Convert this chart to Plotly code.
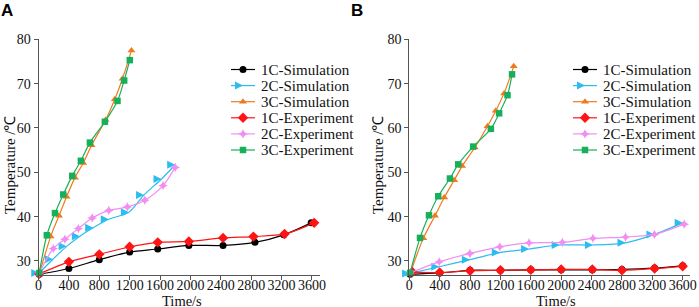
import plotly.graph_objects as go

# ---------------- data ----------------
names = ["1C-Simulation", "2C-Simulation", "3C-Simulation",
         "1C-Experiment", "2C-Experiment", "3C-Experiment"]

x_ticks = [0, 400, 800, 1200, 1600, 2000, 2400, 2800, 3200, 3600]
y_ticks = [30, 40, 50, 60, 70, 80]

# Panel A
A_1C_sim_x = [10, 400, 800, 1200, 1570, 1980, 2430, 2850, 3230, 3590]
A_1C_sim_y = [27.0, 28.3, 30.3, 32.0, 32.7, 33.5, 33.5, 34.2, 35.9, 38.6]
A_2C_sim_x = [10, 190, 370, 545, 720, 925, 1190, 1390, 1620, 1800]
A_2C_sim_y = [27.3, 30.4, 33.3, 35.6, 37.5, 39.4, 41.0, 44.9, 48.5, 51.7]
A_3C_sim_x = [10, 160, 270, 370, 480, 589, 699, 883, 1005, 1106, 1224]
A_3C_sim_y = [27.1, 35.5, 40.2, 44.5, 48.8, 52.1, 56.1, 61.8, 66.5, 71.1, 77.5]
A_1C_exp_x = [10, 400, 800, 1200, 1570, 1980, 2430, 2830, 3240, 3630]
A_1C_exp_y = [27.1, 29.8, 31.5, 33.2, 34.2, 34.4, 35.2, 35.5, 36.1, 38.6]
A_2C_exp_x = [10, 195, 348, 525, 707, 926, 1170, 1400, 1640, 1800]
A_2C_exp_y = [27.3, 32.8, 34.9, 37.3, 39.7, 41.4, 42.2, 43.7, 47.0, 51.1]
A_3C_exp_x = [10, 110, 217, 326, 444, 558, 677, 874, 1040, 1128, 1202]
A_3C_exp_y = [27.3, 35.8, 40.8, 45.0, 49.2, 52.6, 56.7, 61.4, 66.1, 70.7, 75.3]

# Panel B
B_1C_sim_x = [10, 400, 800, 1200, 1600, 2000, 2410, 2800, 3230, 3600]
B_1C_sim_y = [27.0, 27.3, 27.9, 27.9, 28.0, 28.0, 28.0, 28.1, 28.4, 28.9]
B_2C_sim_x = [10, 394, 798, 1192, 1577, 1980, 2418, 2847, 3228, 3600]
B_2C_sim_y = [27.2, 28.7, 30.3, 31.9, 32.7, 33.6, 33.6, 34.1, 36.0, 38.6]
B_3C_sim_x = [10, 184, 338, 460, 591, 696, 863, 1030, 1139, 1248, 1375]
B_3C_sim_y = [27.1, 35.1, 40.2, 44.3, 48.2, 51.4, 55.6, 60.4, 63.9, 67.8, 73.9]
B_1C_exp_x = [40, 400, 800, 1200, 1600, 2000, 2410, 2800, 3230, 3600]
B_1C_exp_y = [27.5, 27.4, 27.8, 27.9, 28.0, 28.1, 28.1, 27.9, 28.3, 28.8]
B_2C_exp_x = [10, 394, 798, 1192, 1577, 2015, 2418, 2847, 3228, 3620]
B_2C_exp_y = [27.3, 29.8, 31.7, 33.2, 34.1, 34.2, 35.1, 35.4, 36.0, 38.3]
B_3C_exp_x = [10, 141, 259, 381, 535, 644, 841, 1074, 1183, 1293, 1353]
B_3C_exp_y = [27.3, 35.2, 40.3, 44.6, 48.6, 51.8, 55.8, 59.8, 63.3, 67.4, 72.1]

# ---------------- styles ----------------
colors = ["#000000", "#2cbcf0", "#f07a1e", "#ff1414", "#f28ef2", "#17b05a"]
symbols = ["circle", "arrow-right", "triangle-up", "diamond", "star-diamond", "square"]
msizes = [7, 8, 7, 8, 7, 6.5]

SERIF = "Liberation Serif, Times New Roman, serif"
W, H = 699, 307

panels = {
    "A": [(A_1C_sim_x, A_1C_sim_y), (A_2C_sim_x, A_2C_sim_y), (A_3C_sim_x, A_3C_sim_y),
          (A_1C_exp_x, A_1C_exp_y), (A_2C_exp_x, A_2C_exp_y), (A_3C_exp_x, A_3C_exp_y)],
    "B": [(B_1C_sim_x, B_1C_sim_y), (B_2C_sim_x, B_2C_sim_y), (B_3C_sim_x, B_3C_sim_y),
          (B_1C_exp_x, B_1C_exp_y), (B_2C_exp_x, B_2C_exp_y), (B_3C_exp_x, B_3C_exp_y)],
}

fig = go.Figure()
for ax, key in [("", "A"), ("2", "B")]:
    for i, (xs, ys) in enumerate(panels[key]):
        fig.add_trace(go.Scatter(
            x=xs, y=ys, mode="lines+markers", name=names[i], showlegend=False,
            line=dict(color=colors[i], width=1.2, shape="spline", smoothing=0.8),
            marker=dict(symbol=symbols[i], size=msizes[i], color=colors[i],
                        line=dict(width=0)),
            cliponaxis=False, xaxis="x" + ax, yaxis="y" + ax,
        ))

# ---------------- manual legends (pixel overlay axis) ----------------
legend_rows = [69.5 + 16.1 * i for i in range(6)]
legend_left = {"A": 231, "B": 573}
seg = 24
for key in ["A", "B"]:
    x0 = legend_left[key]
    for i, yy in enumerate(legend_rows):
        fig.add_trace(go.Scatter(
            x=[x0, x0 + seg / 2, x0 + seg], y=[yy, yy, yy], mode="lines",
            line=dict(color=colors[i], width=1.2), showlegend=False,
            hoverinfo="skip", xaxis="x3", yaxis="y3", cliponaxis=False))
        fig.add_trace(go.Scatter(
            x=[x0 + seg / 2], y=[yy], mode="markers",
            marker=dict(symbol=symbols[i], size=msizes[i], color=colors[i], line=dict(width=0)),
            showlegend=False, hoverinfo="skip", xaxis="x3", yaxis="y3", cliponaxis=False))
        fig.add_annotation(x=x0 + seg + 4, y=yy, xref="x3", yref="y3", text=names[i],
                           showarrow=False, xanchor="left", yanchor="middle",
                           font=dict(family=SERIF, size=15, color="#111"))

# ---------------- axes ----------------
axis_common = dict(showline=True, linecolor="#555", linewidth=1, ticks="outside",
                   ticklen=4, tickwidth=1, tickcolor="#555", showgrid=False,
                   zeroline=False, automargin=False,
                   tickfont=dict(family=SERIF, size=14, color="#111"))
y_dom = [(H - 275.3) / H, (H - 39.3) / H]
fig.update_layout(
    width=W, height=H, margin=dict(l=0, r=0, t=0, b=0, autoexpand=False),
    paper_bgcolor="white", plot_bgcolor="rgba(0,0,0,0)",
    xaxis=dict(domain=[38.5 / W, 319.5 / W], range=[0, 3700], tickvals=x_ticks,
               tickangle=0, ticklabelstandoff=-7, anchor="y", **axis_common),
    yaxis=dict(domain=y_dom, range=[26.77, 80], tickvals=y_ticks, anchor="x", **axis_common),
    xaxis2=dict(domain=[409.3 / W, 690.3 / W], range=[0, 3700], tickvals=x_ticks,
                tickangle=0, ticklabelstandoff=-7, anchor="y2", **axis_common),
    yaxis2=dict(domain=y_dom, range=[26.77, 80], tickvals=y_ticks, anchor="x2", **axis_common),
    xaxis3=dict(domain=[0, 1], range=[0, W], visible=False, anchor="y3", fixedrange=True),
    yaxis3=dict(domain=[0, 1], range=[H, 0], visible=False, anchor="x3", fixedrange=True),
    showlegend=False,
)

# ---------------- titles / panel labels ----------------
for xc in [182, 556]:
    fig.add_annotation(x=xc, y=300.5, xref="x3", yref="y3", text="Time/s", showarrow=False,
                       xanchor="center", yanchor="middle",
                       font=dict(family=SERIF, size=14.5, color="#111"))
for xc in [10, 378]:
    fig.add_annotation(x=xc, y=165, xref="x3", yref="y3", text="Temperature /℃",
                       showarrow=False, textangle=-90, xanchor="center", yanchor="middle",
                       font=dict(family=SERIF, size=15, color="#111"))
for xc, lab in [(6.5, "A"), (356.5, "B")]:
    fig.add_annotation(x=xc, y=10.5, xref="x3", yref="y3", text="<b>%s</b>" % lab,
                       showarrow=False, xanchor="center", yanchor="middle",
                       font=dict(family="Liberation Sans, Arial, sans-serif", size=17, color="#000"))

fig.write_html("out.html", config={"displayModeBar": False},
               post_script="document.body.style.margin='0px';")
